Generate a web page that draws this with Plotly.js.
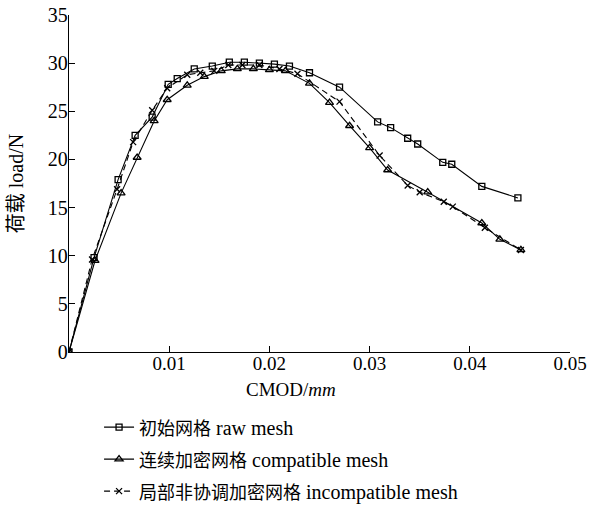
<!DOCTYPE html>
<html><head><meta charset="utf-8">
<script src="https://cdn.plot.ly/plotly-3.0.1.min.js"></script>
<style>html,body{margin:0;padding:0;background:#fff}#chart{width:594px;height:506px}</style>
</head><body><div id="chart"></div>
<script>
const rawX = [0, 0.0025, 0.0049, 0.0066, 0.0083, 0.0099, 0.0108, 0.0125, 0.0143, 0.016, 0.0175, 0.019, 0.0205, 0.022, 0.024, 0.027, 0.0308, 0.0321, 0.0338, 0.0348, 0.0373, 0.0382, 0.0412, 0.0448];
const rawY = [0, 9.8, 17.9, 22.5, 24.4, 27.8, 28.4, 29.4, 29.7, 30.1, 30.1, 30.0, 29.9, 29.7, 29.0, 27.5, 23.9, 23.3, 22.2, 21.6, 19.7, 19.5, 17.2, 16.0];
const compX = [0, 0.0026, 0.0052, 0.0068, 0.0085, 0.0098, 0.0118, 0.0135, 0.0152, 0.0168, 0.0184, 0.02, 0.0216, 0.024, 0.026, 0.028, 0.030, 0.0318, 0.0358, 0.0412, 0.043, 0.0451];
const compY = [0, 9.5, 16.5, 20.2, 24.0, 26.2, 27.7, 28.6, 29.2, 29.4, 29.4, 29.3, 29.2, 27.9, 25.9, 23.5, 21.2, 18.9, 16.6, 13.4, 11.7, 10.6];
const incX = [0, 0.0023, 0.0048, 0.0064, 0.0083, 0.0098, 0.0118, 0.0131, 0.0145, 0.0159, 0.0173, 0.019, 0.021, 0.0228, 0.027, 0.031, 0.0338, 0.035, 0.0374, 0.0383, 0.0415, 0.0451];
const incY = [0, 9.6, 16.9, 21.8, 25.1, 27.4, 28.8, 29.0, 29.2, 29.8, 29.8, 29.8, 29.4, 28.9, 26.0, 20.4, 17.3, 16.6, 15.6, 15.1, 12.9, 10.6];
const namesZh = ['初始网格', '连续加密网格', '局部非协调加密网格'];
const namesEn = ['raw mesh', 'compatible mesh', 'incompatible mesh'];
const xTicks = [0.01, 0.02, 0.03, 0.04, 0.05];
const xTickText = ['0.01', '0.02', '0.03', '0.04', '0.05'];
const yTicks = [0, 5, 10, 15, 20, 25, 30, 35];

const serif = 'Liberation Serif, "Noto Sans CJK SC", serif';
const nm = i => '<span style="font-size:18px">' + namesZh[i] + '</span> ' + namesEn[i];
const traces = [
  {x: rawX, y: rawY, name: nm(0), legendgroup: 'a', mode: 'lines+markers',
   line: {color: '#000', width: 1.1}, marker: {symbol: 'square-open', size: 6, color: '#000', line: {width: 1.3}}},
  {x: compX, y: compY, name: nm(1), legendgroup: 'b', mode: 'lines+markers',
   line: {color: '#000', width: 1.1}, marker: {symbol: 'triangle-up-open', size: 7, color: '#000', line: {width: 1.3}}},
  {x: incX, y: incY, name: nm(2), legendgroup: 'c', mode: 'lines+markers',
   line: {color: '#000', width: 1.1, dash: '6px,4px'}, marker: {symbol: 'x-thin-open', size: 6, color: '#000', line: {width: 1.3, color: '#000'}}}
];
const layout = {
  width: 594, height: 506,
  margin: {l: 69, r: 24, t: 15, b: 154, autoexpand: false},
  paper_bgcolor: '#fff', plot_bgcolor: '#fff',
  font: {family: serif, color: '#000', size: 20},
  showlegend: true,
  legend: {x: 0.06, y: -0.165, xanchor: 'left', yanchor: 'top', tracegroupgap: 3,
           font: {family: serif, size: 20}, bgcolor: 'rgba(0,0,0,0)'},
  xaxis: {range: [0, 0.05], tickmode: 'array', tickvals: xTicks, ticktext: xTickText,
          showgrid: false, zeroline: false, showline: true, linecolor: '#000', linewidth: 1.3,
          ticks: 'inside', ticklen: 6, tickcolor: '#000', tickfont: {family: serif, size: 19},
          ticklabelstandoff: -6},
  yaxis: {range: [0, 35], tickmode: 'array', tickvals: yTicks,
          showgrid: false, zeroline: false, showline: true, linecolor: '#000', linewidth: 1.3,
          ticks: 'inside', ticklen: 6, tickcolor: '#000', tickfont: {family: serif, size: 20},
          ticklabelstandoff: -4,
          title: {text: '荷载 load/N', font: {family: serif, size: 20}, standoff: 18}},
  annotations: [{xref: 'paper', yref: 'paper', x: 0.443, y: -0.073, xanchor: 'center', yanchor: 'top',
                 showarrow: false, text: 'CMOD/<i>mm</i>', font: {family: serif, size: 19}}]
};
Plotly.newPlot('chart', traces, layout, {displayModeBar: false, staticPlot: true});
</script></body></html>
